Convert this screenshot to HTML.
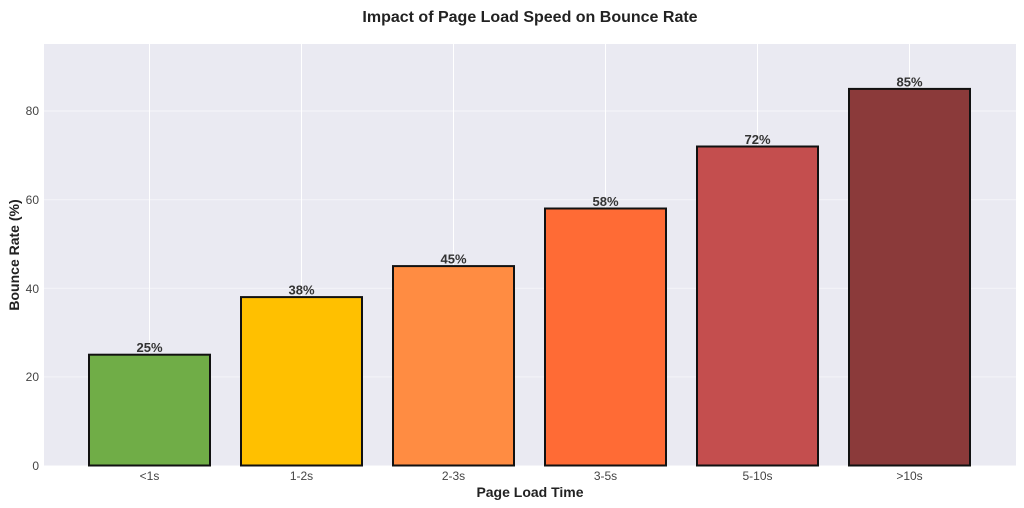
<!DOCTYPE html>
<html><head><style>body{margin:0;background:#fff}svg{display:block;font-family:"Liberation Sans",sans-serif}</style></head><body>
<svg width="1024" height="508" xmlns="http://www.w3.org/2000/svg">
<text x="530" y="22" text-anchor="middle" font-size="16" font-weight="bold" fill="#222">Impact of Page Load Speed on Bounce Rate</text>
<rect x="44" y="44" width="972" height="421.5" fill="#eaeaf2"/>
<g stroke="#fff" stroke-width="1" stroke-opacity="0.5">
<line x1="44" x2="1016" y1="376.9" y2="376.9"/><line x1="44" x2="1016" y1="288.3" y2="288.3"/><line x1="44" x2="1016" y1="199.7" y2="199.7"/><line x1="44" x2="1016" y1="111" y2="111"/>
</g>
<g stroke="#fff" stroke-width="1">
<line x1="149.5" x2="149.5" y1="44" y2="465.5"/><line x1="301.5" x2="301.5" y1="44" y2="465.5"/><line x1="453.5" x2="453.5" y1="44" y2="465.5"/><line x1="605.5" x2="605.5" y1="44" y2="465.5"/><line x1="757.5" x2="757.5" y1="44" y2="465.5"/><line x1="909.5" x2="909.5" y1="44" y2="465.5"/>
</g>
<g stroke="#111" stroke-width="2">
<rect x="89" y="354.7" width="121" height="110.8" fill="#70ad47"/>
<rect x="241" y="297.1" width="121" height="168.4" fill="#ffc000"/>
<rect x="393" y="266.1" width="121" height="199.4" fill="#ff8c42"/>
<rect x="545" y="208.5" width="121" height="257" fill="#ff6b35"/>
<rect x="697" y="146.5" width="121" height="319" fill="#c44e4e"/>
<rect x="849" y="88.9" width="121" height="376.6" fill="#8b3a3a"/>
</g>
<g font-size="13" font-weight="bold" fill="#333" text-anchor="middle">
<text x="149.5" y="352">25%</text><text x="301.5" y="294.5">38%</text><text x="453.5" y="263.5">45%</text><text x="605.5" y="206">58%</text><text x="757.5" y="144">72%</text><text x="909.5" y="86.5">85%</text>
</g>
<g font-size="12" fill="#444" text-anchor="end">
<text x="39" y="470">0</text><text x="39" y="381">20</text><text x="39" y="293">40</text><text x="39" y="204">60</text><text x="39" y="115">80</text>
</g>
<g font-size="12" fill="#444" text-anchor="middle">
<text x="149.5" y="480">&lt;1s</text><text x="301.5" y="480">1-2s</text><text x="453.5" y="480">2-3s</text><text x="605.5" y="480">3-5s</text><text x="757.5" y="480">5-10s</text><text x="909.5" y="480">&gt;10s</text>
</g>
<text x="530" y="497" text-anchor="middle" font-size="14" font-weight="bold" fill="#222">Page Load Time</text>
<text transform="translate(19,255) rotate(-90)" text-anchor="middle" font-size="14" font-weight="bold" fill="#222">Bounce Rate (%)</text>
</svg>
</body></html>
